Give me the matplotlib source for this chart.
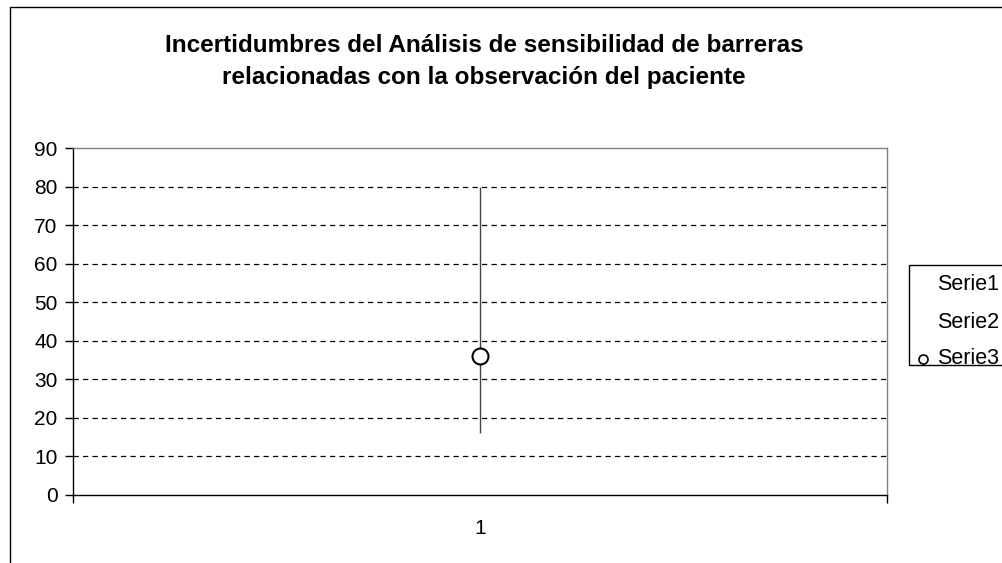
import matplotlib
matplotlib.use("Agg")
import matplotlib.pyplot as plt
from matplotlib.patches import Rectangle
from matplotlib.lines import Line2D

plt.rcParams['font.family'] = ['Liberation Sans', 'DejaVu Sans']

# Data: one category, high / low / value
categories = ["1"]
serie1_high = [80]
serie2_low = [16]
serie3_value = [36]
series_names = ["Serie1", "Serie2", "Serie3"]
y_ticks = [0, 10, 20, 30, 40, 50, 60, 70, 80, 90]
title = "Incertidumbres del Análisis de sensibilidad de barreras\nrelacionadas con la observación del paciente"

W, H = 1002, 563
fig = plt.figure(figsize=(W / 100, H / 100), dpi=100)
fig.patch.set_facecolor("white")


def fx(px):
    return px / W


def fy(py):
    return 1 - py / H


# Outer chart border (runs past the right and bottom edges)
fig.patches.append(Rectangle((fx(10), fy(H + 20)), 2, fy(7) - fy(H + 20),
                             transform=fig.transFigure, fill=False,
                             edgecolor="black", linewidth=1.0))

ax = fig.add_axes([fx(73), fy(495), fx(887) - fx(73), fy(148) - fy(495)])
ax.set_facecolor("white")

x = list(range(1, len(categories) + 1))

# Grid lines
for v in y_ticks[1:-1]:
    ax.axhline(v, color="black", linewidth=0.9, linestyle=(0, (4.2, 3.4)), zorder=1)

# High-low line and value marker
ax.vlines(x, serie2_low, serie1_high, color="#404040", linewidth=1.0, zorder=2)
ax.plot(x, serie3_value, linestyle="none", marker="o", markersize=11.5,
        markerfacecolor="white", markeredgecolor="black", markeredgewidth=1.5,
        zorder=3)

tick_fs = 15

ax.set_xlim(0.5, len(categories) + 0.5)
ax.set_ylim(0, 90)
ax.set_yticks(y_ticks)
ax.set_yticklabels([str(t) for t in y_ticks], fontsize=tick_fs)
ax.tick_params(axis="y", direction="out", length=6, width=1, pad=5, colors="black")

ax.set_xticks([0.5 + i for i in range(len(categories) + 1)])
ax.set_xticklabels([""] * (len(categories) + 1))
ax.tick_params(axis="x", which="major", direction="out", length=6, width=1)
ax.set_xticks(x, minor=True)
ax.set_xticklabels(categories, minor=True, fontsize=tick_fs)
ax.tick_params(axis="x", which="minor", length=0, pad=17)

for side in ("top", "right"):
    ax.spines[side].set_color("#808080")
    ax.spines[side].set_linewidth(1.0)
for side in ("left", "bottom"):
    ax.spines[side].set_color("black")
    ax.spines[side].set_linewidth(1.0)

fig.text(fx(484), fy(61), title, ha="center", va="center", fontsize=17.5,
         fontweight="bold", linespacing=1.5)

# Legend box (runs past the right edge)
fig.patches.append(Rectangle((fx(909), fy(365)), 1, fy(265) - fy(365),
                             transform=fig.transFigure, fill=False,
                             edgecolor="black", linewidth=1.0))
legend_rows = [285, 323, 359]
for name, row in zip(series_names, legend_rows):
    fig.text(fx(937), fy(row), name, ha="left", va="center", fontsize=tick_fs + 0.5)
fig.add_artist(Line2D([fx(923)], [fy(legend_rows[2])], transform=fig.transFigure,
                      linestyle="none", marker="o", markersize=6.5,
                      markerfacecolor="white", markeredgecolor="black",
                      markeredgewidth=1.2))

fig.savefig("out.png", dpi=100, facecolor="white")
